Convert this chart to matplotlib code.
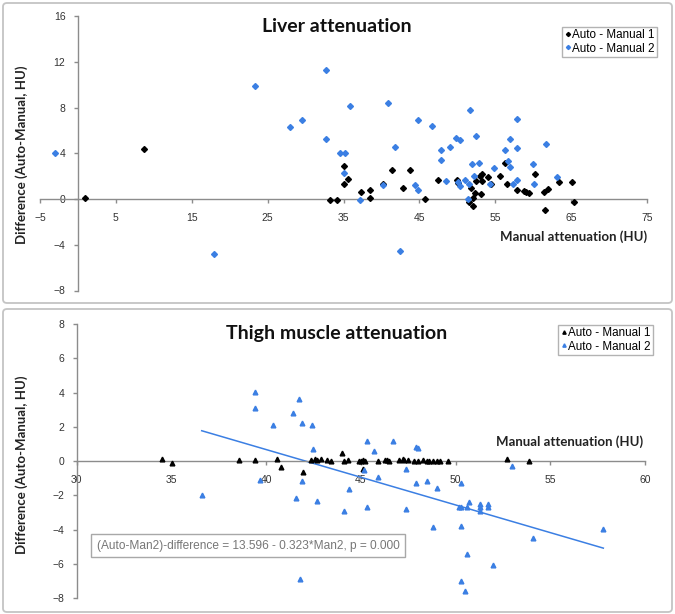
import matplotlib
matplotlib.use("Agg")
import matplotlib.pyplot as plt
from matplotlib.patches import FancyBboxPatch
import numpy as np

# ---------------- data ----------------
liver_m1_x = [0.9, 8.7, 33.2, 34.2, 35.1, 35.6, 35.0, 41.4, 43.7, 42.9, 40.2, 37.3, 38.5, 38.5,
              45.7, 47.5, 50.0, 50.1, 51.75, 52.3, 52.1, 51.6, 52.1, 52.4, 53.1, 53.0, 53.3, 53.2,
              54.0, 54.5, 55.6, 56.3, 56.5, 57.9, 58.8, 59.0, 59.5, 60.2, 61.4, 62.0, 61.5, 63.4,
              65.1, 65.4]
liver_m1_y = [0.1, 4.4, -0.1, -0.1, 2.9, 1.75, 1.35, 2.5, 2.5, 1.0, 1.35, 0.65, 0.75, 0.05,
              0.0, 1.65, 1.65, 1.4, 0.95, 0.55, 0.1, -0.3, -0.65, 1.55, 0.45, 2.05, 2.2, 1.55,
              1.9, 1.35, 2.0, 3.15, 1.3, 0.75, 0.7, 0.65, 0.55, 2.2, 0.6, 0.9, -0.95, 1.5,
              1.5, -0.25]

liver_m2_x = [-3.0, 17.9, 23.3, 27.9, 29.5, 32.7, 32.7, 34.5, 35.2, 35.9, 40.8, 51.7, 57.9, 44.8,
              46.6, 52.4, 49.8, 50.4, 56.9, 61.7, 41.8, 47.9, 49.0, 56.3, 57.9, 47.8, 51.9, 52.8,
              54.9, 56.7, 57.0, 60.0, 35.0, 52.2, 51.05, 63.1, 40.2, 44.4, 44.8, 48.5, 50.1, 50.3,
              51.5, 54.3, 57.3, 57.9, 60.1, 37.2, 51.4, 42.5]
liver_m2_y = [4.0, -4.8, 9.9, 6.3, 6.95, 11.3, 5.25, 4.05, 4.0, 8.1, 8.35, 7.75, 7.0, 6.9,
              6.35, 5.5, 5.3, 5.15, 5.25, 4.85, 4.55, 4.25, 4.55, 4.3, 4.5, 3.45, 3.05, 3.15,
              2.75, 3.3, 2.8, 3.1, 2.25, 2.05, 1.7, 1.9, 1.25, 1.2, 0.8, 1.55, 1.45, 1.15,
              1.3, 1.3, 1.3, 1.65, 1.35, -0.1, 0.0, -4.55]

thigh_m1_x = [34.5, 35.05, 38.55, 39.4, 40.6, 40.8, 41.95, 42.35, 42.6, 42.7, 42.9, 43.2, 43.4,
              44.0, 44.1, 44.3, 44.9, 45.0, 45.1, 45.2, 45.1, 45.9, 46.25, 46.4, 46.5, 47.0, 47.2,
              47.3, 47.5, 47.8, 48.0, 48.3, 48.5, 48.6, 48.8, 49.0, 49.2, 49.6, 52.7, 53.9]
thigh_m1_y = [0.15, -0.1, 0.05, 0.05, 0.1, -0.35, -0.65, 0.05, 0.1, 0.05, 0.15, 0.05, 0.0,
              0.5, 0.0, 0.05, 0.0, 0.0, 0.05, 0.0, -0.45, 0.0, 0.05, 0.05, 0.0, 0.05, 0.1,
              0.05, 0.05, 0.0, 0.0, 0.05, 0.0, 0.0, 0.0, 0.0, 0.0, 0.0, 0.1, 0.0]

thigh_m2_x = [36.6, 39.4, 39.4, 39.7, 40.35, 41.4, 41.75, 41.9, 41.9, 41.6, 41.8, 42.4, 42.5, 42.7,
              44.1, 44.4, 45.15, 45.3, 45.3, 45.7, 45.9, 46.7, 47.4, 47.4, 47.9, 48.0, 47.9, 48.5,
              48.8, 49.0, 50.2, 50.3, 50.3, 50.3, 50.3, 50.5, 50.6, 50.7, 50.6, 51.3, 51.3, 51.3,
              51.7, 51.7, 52.0, 53.0, 54.1, 57.8]
thigh_m2_y = [-1.95, 4.05, 3.1, -1.1, 2.1, 2.8, 3.6, 2.25, -1.15, -2.15, -6.9, 2.1, 0.7, -2.3,
              -2.9, -1.6, -0.5, 1.15, -2.65, 0.6, -0.95, 1.15, -0.45, -2.8, 0.8, 0.75, -1.25, -1.15,
              -3.85, -1.55, -2.7, -2.7, -1.25, -3.8, -7.0, -7.6, -2.7, -2.4, -5.4, -2.5, -2.7, -2.9,
              -2.5, -2.7, -6.05, -0.3, -4.5, -3.95]

reg_intercept = 13.596
reg_slope = -0.323

liver_xticks = [-5, 5, 15, 25, 35, 45, 55, 65, 75]
liver_yticks = [-8, -4, 0, 4, 8, 12, 16]
thigh_xticks = [30, 35, 40, 45, 50, 55, 60]
thigh_yticks = [-8, -6, -4, -2, 0, 2, 4, 6, 8]

series_labels = ["Auto - Manual 1", "Auto - Manual 2"]

# ---------------- style ----------------
BLUE = "#3b7fe3"
AXC = "#8c8c8c"
TICKC = "#333333"
W, H = 675, 614
tick_font = dict(family="Liberation Sans", size=7.5)
bold_font = "Lato"

fig = plt.figure(figsize=(W / 100, H / 100), dpi=100)


def fx(px):
    return px / W


def fy(py):
    return 1 - py / H


# panel frames
for (x0, y0, x1, y1) in [(3, 3, 672, 303), (3, 309, 672, 612)]:
    fig.patches.append(FancyBboxPatch((fx(x0), fy(y1)), fx(x1) - fx(x0), fy(y0) - fy(y1),
                                      boxstyle="round,pad=0,rounding_size=0.006",
                                      transform=fig.transFigure, facecolor="white",
                                      edgecolor="#c4c4c4", linewidth=1.3, zorder=-10))


def style_axes(ax):
    ax.set_facecolor("none")
    for s in ["top", "right"]:
        ax.spines[s].set_visible(False)
    for s in ["left", "bottom"]:
        ax.spines[s].set_color(AXC)
        ax.spines[s].set_linewidth(1.0)
    ax.tick_params(axis="both", colors=AXC, labelcolor=TICKC, length=3, width=1)
    ax.tick_params(axis="x", pad=7)
    ax.tick_params(axis="y", pad=6)
    for lab in ax.get_xticklabels() + ax.get_yticklabels():
        lab.set_fontfamily(tick_font["family"])
        lab.set_fontsize(tick_font["size"])


legend_kw = dict(frameon=True, fancybox=False, edgecolor="#a0a0a0",
                 prop=dict(family="Liberation Sans", size=8.4),
                 handlelength=0.5, handletextpad=0.15, borderpad=0.2, labelspacing=0.1,
                 borderaxespad=0, markerscale=0.7)

# ---------------- top panel ----------------
ax1 = fig.add_axes([fx(40), fy(290.5), fx(647) - fx(40), fy(16) - fy(290.5)])
ax1.set_xlim(-5, 75)
ax1.set_ylim(-8, 16)
ax1.spines["left"].set_position(("data", 0))
ax1.spines["bottom"].set_position(("data", 0))
ax1.set_xticks(liver_xticks)
ax1.set_yticks(liver_yticks)
ax1.plot(liver_m1_x, liver_m1_y, linestyle="none", marker="D", ms=3.0, color="black",
         label=series_labels[0], zorder=3)
ax1.plot(liver_m2_x, liver_m2_y, linestyle="none", marker="D", ms=3.0, color=BLUE,
         label=series_labels[1], zorder=3)
style_axes(ax1)
leg1 = ax1.legend(loc="upper right", bbox_to_anchor=(fx(657), fy(27)),
                  bbox_transform=fig.transFigure, **legend_kw)
leg1.get_frame().set_linewidth(1.0)

fig.text(fx(337), fy(27), "Liver attenuation", ha="center", va="center",
         fontsize=14, fontweight="bold", family=bold_font, color="#111111")
fig.text(fx(647), fy(237), "Manual attenuation (HU)", ha="right", va="center",
         fontsize=9.5, fontweight="bold", family=bold_font, color="#222222")
fig.text(fx(22), fy(155), "Difference (Auto-Manual, HU)", ha="center", va="center",
         rotation=90, fontsize=9.5, fontweight="bold", family=bold_font, color="#222222")

# ---------------- bottom panel ----------------
ax2 = fig.add_axes([fx(76.7), fy(598.3), fx(645) - fx(76.7), fy(324) - fy(598.3)])
ax2.set_xlim(30, 60)
ax2.set_ylim(-8, 8)
ax2.spines["bottom"].set_position(("data", 0))
ax2.set_xticks(thigh_xticks)
ax2.set_yticks(thigh_yticks)
ax2.plot(thigh_m1_x, thigh_m1_y, linestyle="none", marker="^", ms=3.4, color="black",
         label=series_labels[0], zorder=3)
ax2.plot(thigh_m2_x, thigh_m2_y, linestyle="none", marker="^", ms=3.4, color=BLUE,
         label=series_labels[1], zorder=3)
xr = np.array([min(thigh_m2_x), max(thigh_m2_x)])
ax2.plot(xr, reg_intercept + reg_slope * xr, color=BLUE, lw=1.1, zorder=2)
style_axes(ax2)
leg2 = ax2.legend(loc="upper right", bbox_to_anchor=(fx(653), fy(325)),
                  bbox_transform=fig.transFigure, **legend_kw)
leg2.get_frame().set_linewidth(1.0)

fig.text(fx(337), fy(333), "Thigh muscle attenuation", ha="center", va="center",
         fontsize=14, fontweight="bold", family=bold_font, color="#111111")
fig.text(fx(643), fy(442), "Manual attenuation (HU)", ha="right", va="center",
         fontsize=9.5, fontweight="bold", family=bold_font, color="#222222")
fig.text(fx(22), fy(465), "Difference (Auto-Manual, HU)", ha="center", va="center",
         rotation=90, fontsize=9.5, fontweight="bold", family=bold_font, color="#222222")

eq = f"(Auto-Man2)-difference = {reg_intercept:.3f} - {abs(reg_slope):.3f}*Man2, p = 0.000"
fig.text(fx(248), fy(545.5), eq, ha="center", va="center", fontsize=8.6,
         family="Liberation Sans", color="#777777",
         bbox=dict(boxstyle="square,pad=0.5", facecolor="white", edgecolor="#a8a8a8", lw=1.0))

fig.savefig("out.png", dpi=100)
